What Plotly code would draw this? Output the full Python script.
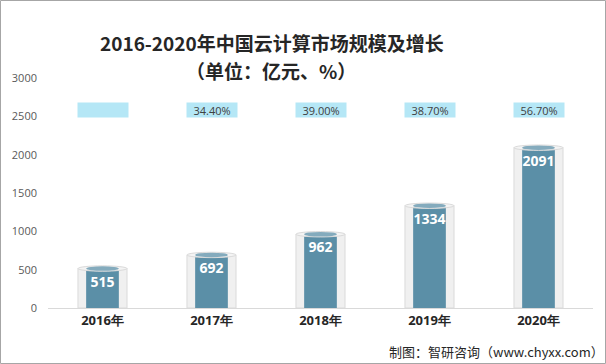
import plotly.graph_objects as go

years = ["2016年", "2017年", "2018年", "2019年", "2020年"]
market = [515, 692, 962, 1334, 2091]
growth = ["", "34.40%", "39.00%", "38.70%", "56.70%"]
growth_level = 2580

W, H = 606, 364
L, R, T, B = 48, 13, 78, 56

fig = go.Figure()
fig.add_trace(go.Bar(x=years, y=market, width=0.45,
                     marker=dict(color="#f0f0f0", line=dict(color="#dadada", width=1)),
                     hoverinfo="skip", showlegend=False))
fig.add_trace(go.Bar(x=years, y=market, width=0.30,
                     marker=dict(color="#5b8fa7", line=dict(width=0)),
                     text=["<b>%d</b>" % v for v in market], textposition="inside",
                     insidetextanchor="end", textangle=0, constraintext="none",
                     textfont=dict(family="Open Sans, DejaVu Sans", size=14, color="white"),
                     showlegend=False))

shapes = []
for i, v in enumerate(market):
    shapes.append(dict(type="circle", xref="x", yref="y", x0=i - 0.225, x1=i + 0.225,
                       y0=v - 35, y1=v + 35, fillcolor="#f4f4f4",
                       line=dict(color="#dadada", width=1), layer="above"))
    shapes.append(dict(type="circle", xref="x", yref="y", x0=i - 0.15, x1=i + 0.15,
                       y0=v - 30, y1=v + 30, fillcolor="#84abbd",
                       line=dict(width=0), layer="above"))

pw, ph = W - L - R, H - T - B
def px(x):
    return (x - L) / pw
def py(y):
    return (H - B - y) / ph

annotations = []
for i, g in enumerate(growth):
    annotations.append(dict(x=years[i], y=growth_level, xref="x", yref="y",
                            text=g if g else " ", showarrow=False,
                            xanchor="center", yanchor="middle",
                            bgcolor="#b5e7f6", width=48, height=12,
                            font=dict(family="Open Sans, DejaVu Sans", size=11, color="#404040")))

annotations.append(dict(text="<b>2016-2020年中国云计算市场规模及增长</b>", x=px(272), y=py(42),
                        xref="paper", yref="paper", showarrow=False,
                        xanchor="center", yanchor="middle",
                        font=dict(family="Noto Sans CJK SC", size=19, color="#262626")))
annotations.append(dict(text="<b>（单位：亿元、%）</b>", x=px(271), y=py(70),
                        xref="paper", yref="paper", showarrow=False,
                        xanchor="center", yanchor="middle",
                        font=dict(family="Noto Sans CJK SC", size=19, color="#262626")))
annotations.append(dict(text="制图：智研咨询（www.chyxx.com）", x=px(606), y=py(351),
                        xref="paper", yref="paper", showarrow=False,
                        xanchor="right", yanchor="middle",
                        font=dict(family="Noto Sans CJK SC", size=13, color="#262626")))

shapes.append(dict(type="rect", xref="paper", yref="paper", x0=px(0.5), x1=px(W - 0.5),
                   y0=py(0.5), y1=py(H - 0.5), line=dict(color="#a6a6a6", width=1),
                   fillcolor="rgba(0,0,0,0)", layer="below"))

fig.update_layout(
    width=W, height=H, margin=dict(l=L, r=R, t=T, b=B),
    paper_bgcolor="white", plot_bgcolor="white",
    barmode="overlay", bargap=0.2,
    shapes=shapes, annotations=annotations,
    xaxis=dict(showline=True, linecolor="#d9d9d9", linewidth=1, ticks="",
               tickfont=dict(family="Open Sans, DejaVu Sans", size=13, color="#262626"),
               tickprefix="<b>", ticksuffix="</b>"),
    yaxis=dict(range=[0, 3000], dtick=500, showgrid=False, zeroline=False,
               showline=False, ticklabelstandoff=10,
               tickfont=dict(family="Open Sans, DejaVu Sans", size=11, color="#595959")),
)

fig.write_html("out.html", config={"displayModeBar": False},
               post_script="document.body.style.margin='0';")
